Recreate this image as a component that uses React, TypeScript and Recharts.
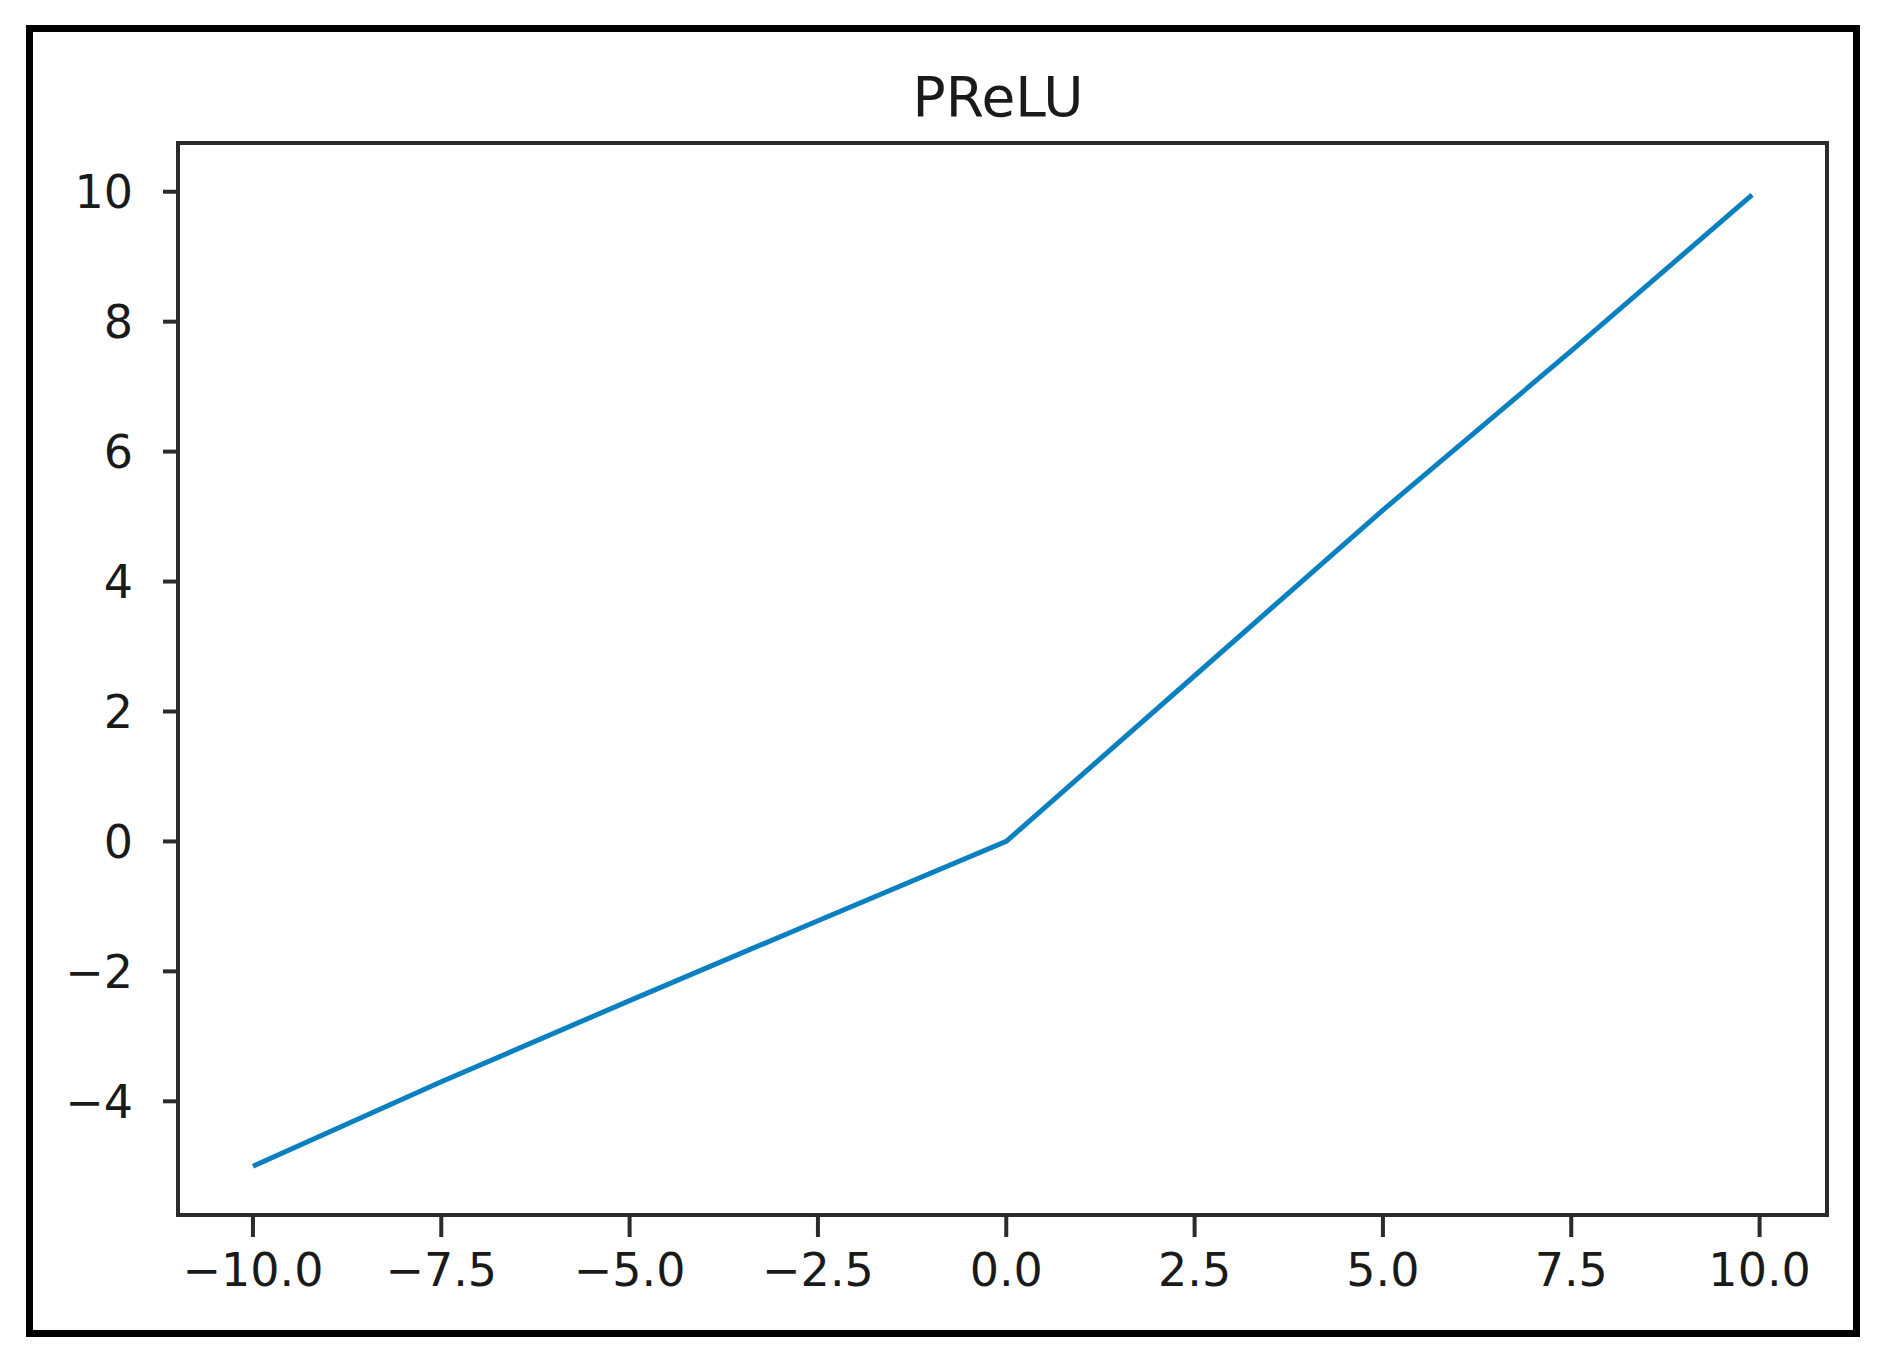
import React from "react";
import { LineChart, Line, XAxis, YAxis, ReferenceArea } from "recharts";

// PReLU curve, values
const xValues = [-10, -7.5, -5, -2.5, 0, 2.5, 5, 7.5, 9.9];
const yValues = [-5, -3.7, -2.45, -1.22, 0, 2.55, 5.1, 7.55, 9.95];

const xTicks = [-10, -7.5, -5, -2.5, 0, 2.5, 5, 7.5, 10];
const yTicks = [-4, -2, 0, 2, 4, 6, 8, 10];
const xDomain: [number, number] = [-10.995, 10.895];
const yDomain: [number, number] = [-5.75, 10.75];

const data = xValues.map((x, i) => ({ x, y: yValues[i] }));

const FONT = "'DejaVu Sans', sans-serif";
const SPINE = "#2b2b2b";
const minus = (s: string) => s.replace("-", "\u2212");

export default function App() {
  return (
    <div style={{ position: "fixed", left: 0, top: 0, width: 1882, height: 1360, background: "#fff" }}>
      <div
        style={{
          position: "absolute",
          left: 26,
          top: 25,
          width: 1834,
          height: 1312,
          boxSizing: "border-box",
          border: "7px solid #000",
        }}
      />
      <svg width={1882} height={1360} style={{ position: "absolute", left: 0, top: 0 }}>
        <text x={998} y={116} textAnchor="middle" fontFamily={FONT} fontSize={55} fill="#1a1a1a">
          PReLU
        </text>
      </svg>
      <div style={{ position: "absolute", left: 0, top: 0 }}>
        <LineChart width={1882} height={1360} data={data} margin={{ top: 143, right: 55, bottom: 85, left: 78 }}>
          <XAxis
            dataKey="x"
            type="number"
            domain={xDomain}
            allowDataOverflow
            ticks={xTicks}
            interval={0}
            tickFormatter={(v: number) => minus(v.toFixed(1))}
            height={60}
            tickSize={22}
            tickMargin={16}
            axisLine={{ stroke: SPINE, strokeWidth: 4 }}
            tickLine={{ stroke: SPINE, strokeWidth: 4 }}
            tick={{ fontFamily: FONT, fontSize: 46, fill: "#1a1a1a" }}
          />
          <YAxis
            type="number"
            domain={yDomain}
            allowDataOverflow
            ticks={yTicks}
            interval={0}
            tickFormatter={(v: number) => minus(String(v))}
            width={100}
            tickSize={15}
            tickMargin={30}
            axisLine={{ stroke: SPINE, strokeWidth: 4 }}
            tickLine={{ stroke: SPINE, strokeWidth: 4 }}
            tick={{ fontFamily: FONT, fontSize: 46, fill: "#1a1a1a" }}
          />
          <ReferenceArea
            x1={xDomain[0]}
            x2={xDomain[1]}
            y1={yDomain[0]}
            y2={yDomain[1]}
            fill="none"
            stroke={SPINE}
            strokeWidth={4}
            ifOverflow="visible"
          />
          <Line
            type="linear"
            dataKey="y"
            stroke="#0a80c0"
            strokeWidth={5}
            dot={false}
            isAnimationActive={false}
          />
        </LineChart>
      </div>
    </div>
  );
}
